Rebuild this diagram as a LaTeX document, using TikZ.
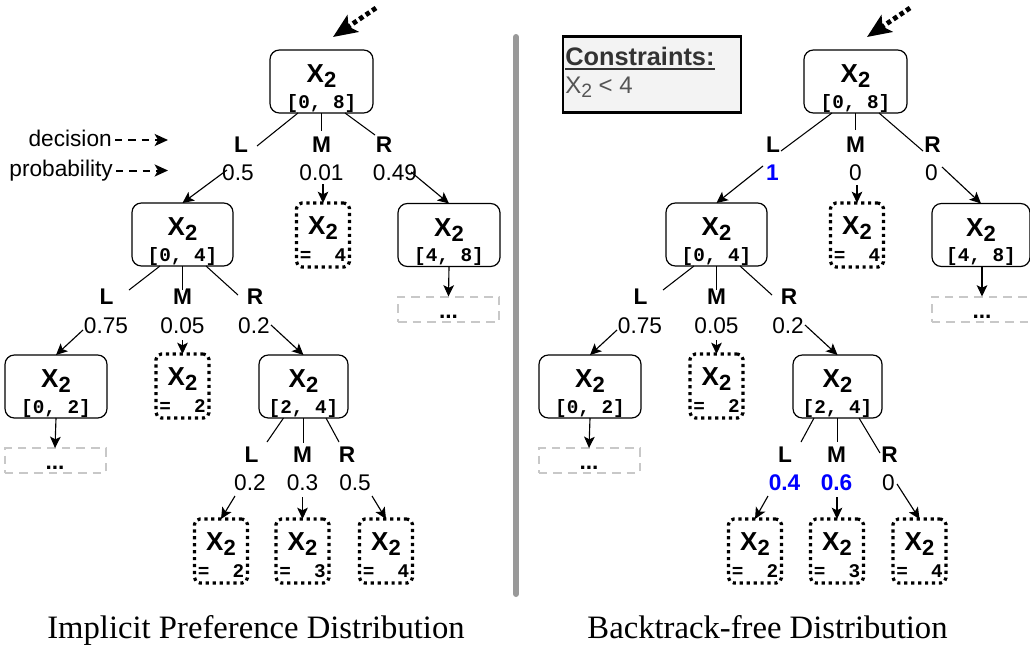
\documentclass[tikz,border=0pt]{standalone}
\usepackage{fontspec}
\setmainfont{Liberation Serif}
\newfontfamily\sansfam{Liberation Sans}
\newfontfamily\monofam{Liberation Mono}
\usetikzlibrary{arrows.meta,calc}

\definecolor{divgray}{HTML}{999999}
\definecolor{dashgray}{HTML}{C8C8C8}
\definecolor{cfill}{HTML}{F3F3F3}
\definecolor{ctext}{HTML}{333333}
\definecolor{cgray}{HTML}{555555}
\definecolor{pblue}{HTML}{0000FF}

% variable name with its subscript
\newcommand\Xtwo{X\raisebox{-3.8pt}{\fontsize{16.5}{16.5}\selectfont 2}}

% interval node: name, cx, cy, width, height, interval text
\newcommand\rangebox[6]{%
  \node[rbox, sz={#4}{#5}] (#1) at (#2,#3) {};
  \node[xt] (#1-x) at ($(#1.center)+(0,1)$) {\Xtwo};
  \node[mt] (#1-m) at ($(#1.center)+(0,26.5)$) {#6};
}
% leaf value node: name, cx, cy, value
\newcommand\valbox[4]{%
  \node[dbox, sz={53}{64}] (#1) at (#2,#3) {};
  \node[xt] (#1-x) at ($(#1.center)+(0,-1)$) {\Xtwo};
  \node[mt] (#1-m) at ($(#1.center)+(0,26)$) {=\ \ #4};
}
% truncated subtree: name, cx, cy
\newcommand\morebox[3]{%
  \node[gbox, sz={101}{25}] (#1) at (#2,#3) {};
  \node[lab] (#1-t) at ($(#1.center)+(0,9)$) {...};
}
% branch line from a box bottom: end name, box, x offset, end x, end y
\newcommand\branch[5]{%
  \coordinate (#1) at (#4,#5);
  \draw[branchline] ($(#2.south)+(#3,0)$) -- (#1);
}
% arrow from a probability to a child box: start name, child, start x, start y
\newcommand\pick[4]{%
  \coordinate (#1) at (#3,#4);
  \draw[arr] (#1) -- (#2.north);
}

\begin{document}
\begin{tikzpicture}[x=0.75pt,y=-0.75pt,
  sz/.style 2 args={minimum width=#1*0.75pt, minimum height=#2*0.75pt},
  rbox/.style={draw, line width=0.9pt, rounded corners=7pt, inner sep=0pt, outer sep=0pt},
  dbox/.style={draw, line width=2.4pt, dash pattern=on 2.4pt off 2.8pt, rounded corners=4pt, inner sep=0pt, outer sep=0pt},
  gbox/.style={draw=dashgray, line width=1.5pt, dash pattern=on 6.5pt off 4.5pt, inner sep=0pt, outer sep=0pt},
  xt/.style={font=\sansfam\bfseries\fontsize{19.5}{19.5}\selectfont, inner sep=0pt, anchor=base},
  mt/.style={font=\monofam\bfseries\fontsize{14.5}{14.5}\selectfont, inner sep=0pt, anchor=base},
  lab/.style={font=\sansfam\bfseries\fontsize{17}{17}\selectfont, inner sep=0pt, anchor=base},
  prob/.style={font=\sansfam\fontsize{17}{17}\selectfont, inner sep=0pt, anchor=base},
  bprob/.style={font=\sansfam\bfseries\fontsize{17}{17}\selectfont, text=pblue, inner sep=0pt, anchor=base},
  branchline/.style={line width=0.8pt},
  arr/.style={line width=0.85pt, -{Stealth[length=8.5pt,width=8pt,inset=2pt]}},
  hint/.style={line width=1.5pt, dash pattern=on 5.5pt off 4.5pt, -{Stealth[length=10pt,width=9pt,inset=2.5pt]}},
  inarr/.style={line width=3.6pt, dash pattern=on 3.4pt off 2.4pt, -{Stealth[length=18pt,width=15pt,inset=4pt]}},
  captext/.style={font=\fontsize{24.5}{24.5}\selectfont, inner sep=0pt, anchor=base}
]
\useasboundingbox (0,0) rectangle (1030,646);

% ---------------- left tree ----------------
\coordinate (inLs) at (376,8);
\coordinate (inLt) at (333,37);
\draw[inarr] (inLs) -- (inLt);

\rangebox{L0}{321.5}{81.5}{103}{63}{[0, 8]}
\rangebox{L1}{182.5}{234.5}{101}{63}{[0, 4]}
\valbox{L4}{323}{235}{4}
\rangebox{L48}{449}{235}{102}{63}{[4, 8]}
\morebox{Lm1}{448.5}{309}
\rangebox{L02}{56}{386.5}{102}{63}{[0, 2]}
\valbox{L2}{182.5}{386}{2}
\rangebox{L24}{303.5}{386.5}{89}{63}{[2, 4]}
\morebox{Lm2}{55}{460.5}
\valbox{La}{221}{551}{2}
\valbox{Lb}{302.5}{551}{3}
\valbox{Lc}{386}{551}{4}

% legend for the two label rows
\node[prob, anchor=base east] (dec) at (112,146) {decision};
\node[prob, anchor=base east] (pro) at (113,176) {probability};
\coordinate (decT) at (168,140);
\coordinate (proT) at (168,170.5);
\draw[hint] ($(dec.east |- decT)+(3,0)$) -- (decT);
\draw[hint] ($(pro.east |- proT)+(3,0)$) -- (proT);

% root decisions
\node[lab] (L0l) at (241,152) {L};
\node[lab] (L0m) at (321.5,152) {M};
\node[lab] (L0r) at (384,152) {R};
\node[prob] (L0pl) at (238,180) {0.5};
\node[prob] (L0pm) at (321.5,180) {0.01};
\node[prob] (L0pr) at (395,180) {0.49};
\branch{L0bl}{L0}{-23.5}{257}{146}
\branch{L0bm}{L0}{0}{321.5}{131}
\branch{L0br}{L0}{23.5}{375}{135}
\pick{L0al}{L1}{227}{170}
\pick{L0am}{L4}{323}{184}
\pick{L0ar}{L48}{411}{172}
\draw[arr] (L48.south) -- (Lm1.north);

% decisions under [0, 4]
\node[lab] (L1l) at (106.5,304) {L};
\node[lab] (L1m) at (182.5,304) {M};
\node[lab] (L1r) at (255,304) {R};
\node[prob] (L1pl) at (106,333) {0.75};
\node[prob] (L1pm) at (182.5,333) {0.05};
\node[prob] (L1pr) at (254,333) {0.2};
\branch{L1bl}{L1}{-22.5}{129}{290}
\branch{L1bm}{L1}{0}{182.5}{290}
\branch{L1br}{L1}{23.5}{238}{295}
\pick{L1al}{L02}{83}{330}
\pick{L1am}{L2}{182.5}{340}
\pick{L1ar}{L24}{271}{325}
\draw[arr] (L02.south) -- (Lm2.north);

% decisions under [2, 4]
\node[lab] (L2l) at (251.5,462) {L};
\node[lab] (L2m) at (302.5,462) {M};
\node[lab] (L2r) at (347,462) {R};
\node[prob] (L2pl) at (250,490) {0.2};
\node[prob] (L2pm) at (302.5,490) {0.3};
\node[prob] (L2pr) at (355,490) {0.5};
\branch{L2bl}{L24}{-20}{267}{442}
\branch{L2bm}{L24}{0}{303.5}{443}
\branch{L2br}{L24}{22.5}{339}{442}
\pick{L2al}{La}{235}{496}
\pick{L2am}{Lb}{302.5}{497}
\pick{L2ar}{Lc}{372}{496}

% ---------------- separator ----------------
\coordinate (divT) at (516,37);
\coordinate (divB) at (516,594);
\draw[line width=4.5pt, divgray, line cap=round] (divT) -- (divB);

% ---------------- right tree ----------------
\node[draw, line width=1.9pt, fill=cfill, sz={178}{76}, inner sep=0pt] (cbox) at (652,74.5) {};
\node[font=\sansfam\bfseries\fontsize{19}{19}\selectfont, text=ctext, anchor=base west, inner sep=0pt] (ctitle) at (565,65) {Constraints:};
\draw[ctext, line width=1.5pt] ($(ctitle.base west)+(0,4)$) -- ($(ctitle.base east)+(0,4)$);
\node[font=\sansfam\fontsize{18}{18}\selectfont, text=cgray, anchor=base west, inner sep=0pt] (cexpr) at (565,93) {X\raisebox{-3.4pt}{\fontsize{14.5}{14.5}\selectfont 2} < 4};

\coordinate (inRs) at (910,8);
\coordinate (inRt) at (867,37);
\draw[inarr] (inRs) -- (inRt);

\rangebox{R0}{855.5}{81.5}{103}{63}{[0, 8]}
\rangebox{R1}{716.5}{234.5}{101}{63}{[0, 4]}
\valbox{R4}{857}{235}{4}
\rangebox{R48}{981}{235}{98}{63}{[4, 8]}
\morebox{Rm1}{982}{309}
\rangebox{R02}{590}{386.5}{102}{63}{[0, 2]}
\valbox{R2}{716.5}{386}{2}
\rangebox{R24}{837.5}{386.5}{89}{63}{[2, 4]}
\morebox{Rm2}{589}{460.5}
\valbox{Ra}{755}{551}{2}
\valbox{Rb}{837}{551}{3}
\valbox{Rc}{919.5}{551}{4}

% root decisions
\node[lab] (R0l) at (773,152) {L};
\node[lab] (R0m) at (855.5,152) {M};
\node[lab] (R0r) at (932.5,152) {R};
\node[bprob] (R0pl) at (772.5,180) {1};
\node[prob] (R0pm) at (855.5,180) {0};
\node[prob] (R0pr) at (931.5,180) {0};
\branch{R0bl}{R0}{-23.5}{781}{151}
\branch{R0bm}{R0}{0}{855.5}{130}
\branch{R0br}{R0}{23.5}{923}{151}
\pick{R0al}{R1}{763}{166}
\pick{R0am}{R4}{857}{185}
\pick{R0ar}{R48}{942}{167}
\draw[arr] (R48.south -| Rm1.north) -- (Rm1.north);

% decisions under [0, 4]
\node[lab] (R1l) at (640.5,304) {L};
\node[lab] (R1m) at (716.5,304) {M};
\node[lab] (R1r) at (789,304) {R};
\node[prob] (R1pl) at (640,333) {0.75};
\node[prob] (R1pm) at (716.5,333) {0.05};
\node[prob] (R1pr) at (788,333) {0.2};
\branch{R1bl}{R1}{-22.5}{663}{290}
\branch{R1bm}{R1}{0}{716.5}{290}
\branch{R1br}{R1}{23.5}{772}{295}
\pick{R1al}{R02}{617}{330}
\pick{R1am}{R2}{716.5}{340}
\pick{R1ar}{R24}{805}{325}
\draw[arr] (R02.south) -- (Rm2.north);

% decisions under [2, 4]
\node[lab] (R2l) at (785,462) {L};
\node[lab] (R2m) at (836.5,462) {M};
\node[lab] (R2r) at (889.5,462) {R};
\node[bprob] (R2pl) at (784.5,490) {0.4};
\node[bprob] (R2pm) at (836.5,490) {0.6};
\node[prob] (R2pr) at (888.5,490) {0};
\branch{R2bl}{R24}{-23.5}{801}{442}
\branch{R2bm}{R24}{0}{837.5}{442}
\branch{R2br}{R24}{21.5}{880}{453}
\pick{R2al}{Ra}{768}{496}
\pick{R2am}{Rb}{837}{497}
\pick{R2ar}{Rc}{897}{484}

% ---------------- captions ----------------
\node[captext] (capL) at (256,638) {Implicit Preference Distribution};
\node[captext] (capR) at (767.5,638) {Backtrack-free Distribution};
\end{tikzpicture}
\end{document}
